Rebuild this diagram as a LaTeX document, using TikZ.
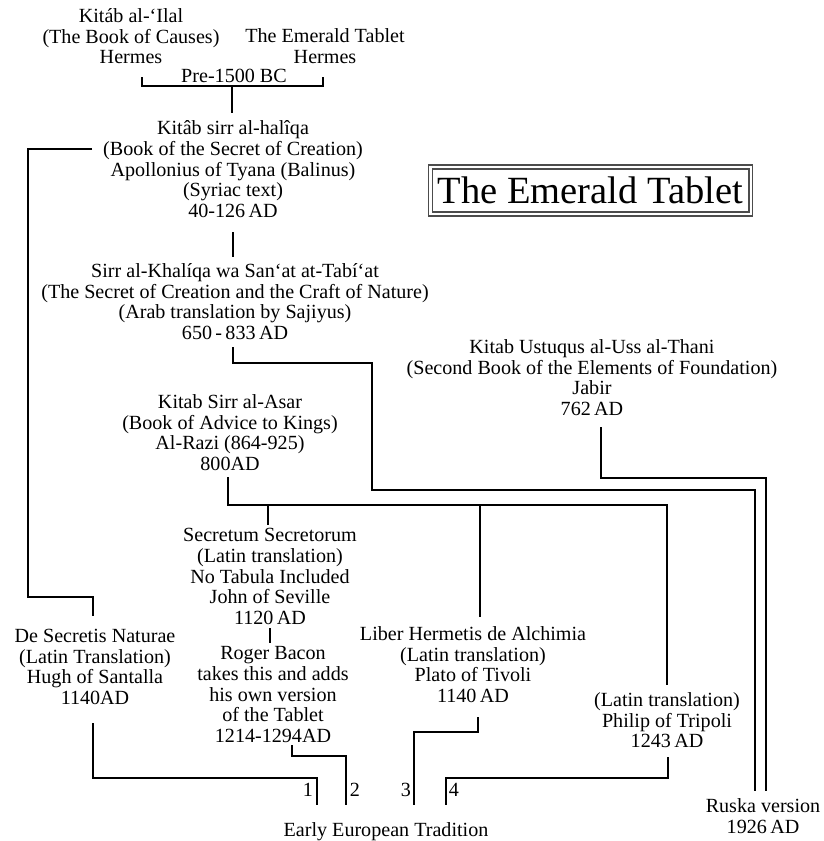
\documentclass[tikz,border=0pt]{standalone}
\usepackage{fontspec}
\setmainfont{Liberation Serif}
\newcommand\blkfont{\fontsize{20.1}{20.7}\selectfont}
\begin{document}
\begin{tikzpicture}[x=1pt,y=-1pt,
  blk/.style={align=center,inner sep=0pt,font=\blkfont},
  ln/.style={line width=1.9pt,line join=miter},
  num/.style={inner sep=0pt,font=\blkfont}]
\useasboundingbox[fill=white] (0,0) rectangle (824,841);

% title
\node[draw=black!70,double,double distance=2.5pt,line width=1.4pt,
      minimum width=320.5pt,minimum height=47pt,inner sep=0pt,
      font=\fontsize{38.5}{40}\selectfont] (title) at (590.5,190.5) {The Emerald Tablet};

% text blocks
\node[blk] (A) at (131,39) {\strut Kitáb al-‘Ilal\\(The Book of Causes)\\Hermes\strut};
\node[blk] (B) at (325,49) {\strut The Emerald Tablet\\Hermes\strut};
\node[blk] (P) at (234,78) {\strut Pre-1500 BC};
\node[blk] (C) at (233,172) {\strut Kitâb sirr al-halîqa\\(Book of the Secret of Creation)\\Apollonius of Tyana (Balinus)\\(Syriac text)\\40-126\,AD\strut};
\node[blk] (D) at (235,304.5) {\strut Sirr al-Khalíqa wa San‘at at-Tabí‘at\\(The Secret of Creation and the Craft of Nature)\\(Arab translation by Sajiyus)\\650\,-\,833\,AD\strut};
\node[blk] (J) at (592,380.5) {\strut Kitab Ustuqus al-Uss al-Thani\\(Second Book of the Elements of Foundation)\\Jabir\\762\,AD\strut};
\node[blk] (R) at (230,435.5) {\strut Kitab Sirr al-Asar\\(Book of Advice to Kings)\\Al-Razi (864-925)\\800AD\strut};
\node[blk] (S) at (270,579) {\strut Secretum Secretorum\\(Latin translation)\\No Tabula Included\\John of Seville\\1120\,AD\strut};
\node[blk] (RB) at (273,697) {\strut Roger Bacon\\takes this and adds\\his own version\\of the Tablet\\1214-1294AD\strut};
\node[blk] (DS) at (95,669.5) {\strut De Secretis Naturae\\(Latin Translation)\\Hugh of Santalla\\1140AD\strut};
\node[blk] (LH) at (473,667.5) {\strut Liber Hermetis de Alchimia\\(Latin translation)\\Plato of Tivoli\\1140\,AD\strut};
\node[blk] (PH) at (667,723) {\strut (Latin translation)\\Philip of Tripoli\\1243\,AD\strut};
\node[blk] (E) at (386,832) {\strut Early European Tradition};
\node[blk] (RU) at (763,819) {\strut Ruska version\\1926\,AD\strut};
\node[num] (n1) at (308,792) {\strut 1};
\node[num] (n2) at (355,792) {\strut 2};
\node[num] (n3) at (406,792) {\strut 3};
\node[num] (n4) at (454,792) {\strut 4};

% connector points
\coordinate (aL) at (142,77);  \coordinate (aLb) at (142,86);
\coordinate (bR) at (323,77);  \coordinate (bRb) at (323,86);
\coordinate (stem) at (232,86); \coordinate (cIn) at (232,113);
\coordinate (cL) at (92,149);  \coordinate (cL1) at (28,149);
\coordinate (cL2) at (28,597); \coordinate (cL3) at (93,597); \coordinate (dsIn) at (93,616);
\coordinate (cOut) at (233,232); \coordinate (dIn) at (233,257);
\coordinate (dOut) at (233,347); \coordinate (d1) at (233,363);
\coordinate (d2) at (372,363); \coordinate (d3) at (372,490);
\coordinate (d4) at (755,490); \coordinate (ruL) at (755,791);
\coordinate (jOut) at (601,427); \coordinate (j1) at (601,478);
\coordinate (j2) at (766,478); \coordinate (ruR) at (766,791);
\coordinate (rOut) at (228,477); \coordinate (bus) at (228,505);
\coordinate (busS) at (268,505); \coordinate (sIn) at (268,525);
\coordinate (busL) at (480,505); \coordinate (lhIn) at (480,617);
\coordinate (busP) at (667,505); \coordinate (phIn) at (667,685);
\coordinate (sOut) at (270,628); \coordinate (rbIn) at (270,643);
\coordinate (dsOut) at (93,723); \coordinate (ds1) at (93,778);
\coordinate (ds2) at (317,778); \coordinate (e1) at (317,805);
\coordinate (rbOut) at (292,745); \coordinate (rb1) at (292,756);
\coordinate (rb2) at (346,756); \coordinate (e2) at (346,805);
\coordinate (lhOut) at (478,717); \coordinate (lh1) at (478,732);
\coordinate (lh2) at (414,732); \coordinate (e3) at (414,805);
\coordinate (phOut) at (668,757); \coordinate (ph1) at (668,778);
\coordinate (ph2) at (446,778); \coordinate (e4) at (446,805);

% connectors
\draw[ln] (aL) -- (aLb) -- (bRb) -- (bR);
\draw[ln] (stem) -- (cIn);
\draw[ln] (cL) -- (cL1) -- (cL2) -- (cL3) -- (dsIn);
\draw[ln] (cOut) -- (dIn);
\draw[ln] (dOut) -- (d1) -- (d2) -- (d3) -- (d4) -- (ruL);
\draw[ln] (jOut) -- (j1) -- (j2) -- (ruR);
\draw[ln] (rOut) -- (bus) -- (busP) -- (phIn);
\draw[ln] (busS) -- (sIn);
\draw[ln] (busL) -- (lhIn);
\draw[ln] (sOut) -- (rbIn);
\draw[ln] (dsOut) -- (ds1) -- (ds2) -- (e1);
\draw[ln] (rbOut) -- (rb1) -- (rb2) -- (e2);
\draw[ln] (lhOut) -- (lh1) -- (lh2) -- (e3);
\draw[ln] (phOut) -- (ph1) -- (ph2) -- (e4);
\end{tikzpicture}
\end{document}
